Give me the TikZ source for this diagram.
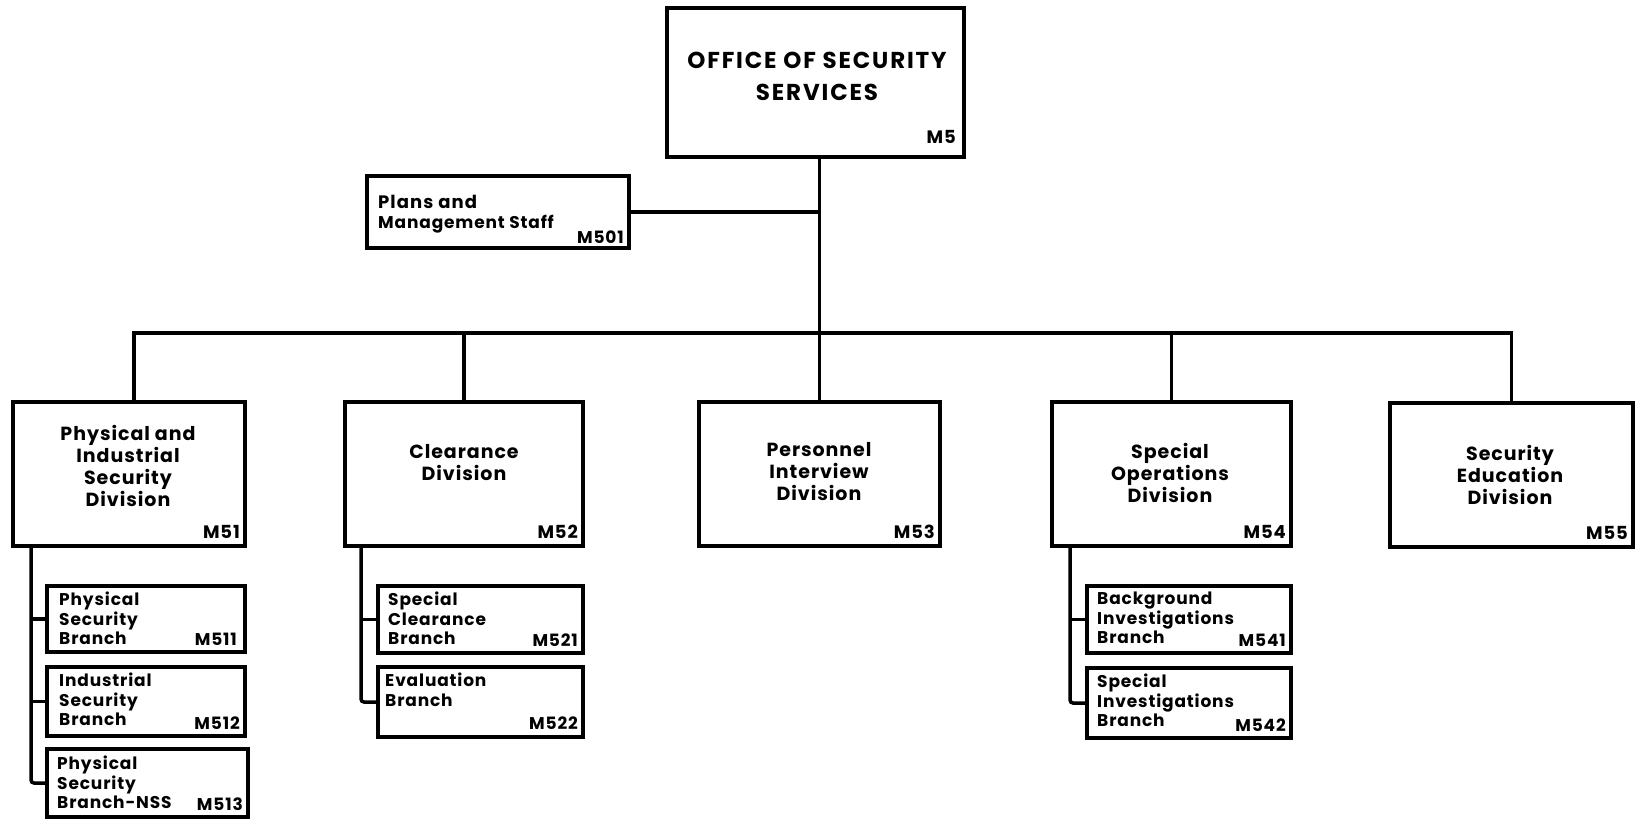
\documentclass[tikz,border=0pt]{standalone}
\usepackage{fontspec}
\setmainfont{Poppins}[LetterSpace=5]
\usetikzlibrary{calc}
\tikzset{
  box/.style={draw, line width=3.5pt, inner sep=0pt, outer sep=0pt},
  conn/.style={line width=3.5pt},
  toptext/.style={font=\fontsize{23}{32}\selectfont\bfseries\addfontfeatures{LetterSpace=8}, align=center, inner sep=0pt},
  divtext/.style={font=\fontsize{19}{22}\selectfont\bfseries, align=center, inner sep=0pt},
  brtext/.style={font=\fontsize{17}{19.5}\selectfont\bfseries, align=left, inner sep=0pt, anchor=north west},
  code/.style={font=\fontsize{18}{20}\selectfont\bfseries, inner sep=0pt, anchor=base east},
  bcode/.style={font=\fontsize{17}{20}\selectfont\bfseries, inner sep=0pt, anchor=base east}
}
\begin{document}
\begin{tikzpicture}[x=1pt,y=-1pt]
\useasboundingbox (0,0) rectangle (1641,819);
% boxes
\node[box, minimum width=297pt, minimum height=149pt] (m5) at (815.5,82.5) {};
\node[box, minimum width=262pt, minimum height=72pt] (m501) at (498,212) {};
\node[box, minimum width=232pt, minimum height=144pt] (m51) at (129,474) {};
\node[box, minimum width=238pt, minimum height=144pt] (m52) at (464,474) {};
\node[box, minimum width=241pt, minimum height=144pt] (m53) at (819.5,474) {};
\node[box, minimum width=239pt, minimum height=144pt] (m54) at (1171.5,474) {};
\node[box, minimum width=243pt, minimum height=144pt] (m55) at (1511.5,475) {};
\node[box, minimum width=198pt, minimum height=66pt] (m511) at (146,619) {};
\node[box, minimum width=198pt, minimum height=69pt] (m512) at (146,701.5) {};
\node[box, minimum width=201pt, minimum height=68pt] (m513) at (147.5,783) {};
\node[box, minimum width=205pt, minimum height=67pt] (m521) at (480.5,619.5) {};
\node[box, minimum width=205pt, minimum height=70pt] (m522) at (480.5,702) {};
\node[box, minimum width=204pt, minimum height=67pt] (m541) at (1189,619.5) {};
\node[box, minimum width=204pt, minimum height=70pt] (m542) at (1189,703) {};
% texts
\node[toptext] (t5) at (817,76) {OFFICE OF SECURITY\\SERVICES};
\node[code] (c5) at ($(m5.south east)+(-8,-14)$) {M5};
\node[brtext] (t501) at ($(m501.north west)+(11,19)$) {\fontsize{18}{20}\selectfont\addfontfeatures{LetterSpace=6}Plans and\\Management Staff};
\node[code] (c501) at ($(m501.south east)+(-5,-5)$) {\fontsize{17}{20}\selectfont M501};
\node[divtext] (t51) at (128,466) {Physical and\\Industrial\\Security\\Division};
\node[code] (c51) at ($(m51.south east)+(-5,-8)$) {M51};
\node[divtext] (t52) at (464,463) {\fontsize{19}{26}\selectfont Clearance\\Division};
\node[code] (c52) at ($(m52.south east)+(-5,-8)$) {M52};
\node[divtext] (t53) at (819,472) {Personnel\\Interview\\Division};
\node[code] (c53) at ($(m53.south east)+(-5,-8)$) {M53};
\node[divtext] (t54) at (1170,473) {Special\\Operations\\Division};
\node[code] (c54) at ($(m54.south east)+(-5,-8)$) {M54};
\node[divtext] (t55) at (1510,475) {Security\\Education\\Division};
\node[code] (c55) at ($(m55.south east)+(-5,-8)$) {M55};
\node[brtext] (t511) at ($(m511.north west)+(12,6)$) {Physical\\Security\\Branch};
\node[bcode] (c511) at ($(m511.south east)+(-8,-7)$) {M511};
\node[brtext] (t512) at ($(m512.north west)+(12,6)$) {Industrial\\Security\\Branch};
\node[bcode] (c512) at ($(m512.south east)+(-5,-7)$) {M512};
\node[brtext] (t513) at ($(m513.north west)+(10,7)$) {Physical\\Security\\Branch-NSS};
\node[bcode] (c513) at ($(m513.south east)+(-5,-7)$) {M513};
\node[brtext] (t521) at ($(m521.north west)+(10,6)$) {Special\\Clearance\\Branch};
\node[bcode] (c521) at ($(m521.south east)+(-5,-7)$) {M521};
\node[brtext] (t522) at ($(m522.north west)+(7,6)$) {Evaluation\\Branch};
\node[bcode] (c522) at ($(m522.south east)+(-5,-8)$) {M522};
\node[brtext] (t541) at ($(m541.north west)+(10,6)$) {Background\\Investigations\\Branch};
\node[bcode] (c541) at ($(m541.south east)+(-5,-7)$) {M541};
\node[brtext] (t542) at ($(m542.north west)+(10,6)$) {Special\\Investigations\\Branch};
\node[bcode] (c542) at ($(m542.south east)+(-5,-7)$) {M542};
% connectors
\coordinate (bus) at (818,333);
\coordinate (d51) at (134,402);
\draw[conn] (m53.north |- m5.south) -- (m53.north);
\draw[conn] (m501.east) -- (m501.east -| m53.north);
\draw[conn] (d51) |- (m55.north |- bus) -- (m55.north);
\draw[conn] (m52.north) -- (m52.north |- bus);
\draw[conn] (m54.north) -- (m54.north |- bus);
\coordinate (s51) at (31,546);
\coordinate (s52) at (361,546);
\coordinate (s54) at (1070,546);
\draw[conn, rounded corners=3pt] (s51) |- (m513.west);
\draw[conn] (s51 |- m511.west) -- (m511.west);
\draw[conn] (s51 |- m512.west) -- (m512.west);
\draw[conn, rounded corners=3pt] (s52) |- (m522.west);
\draw[conn] (s52 |- m521.west) -- (m521.west);
\draw[conn, rounded corners=3pt] (s54) |- (m542.west);
\draw[conn] (s54 |- m541.west) -- (m541.west);
\end{tikzpicture}
\end{document}
